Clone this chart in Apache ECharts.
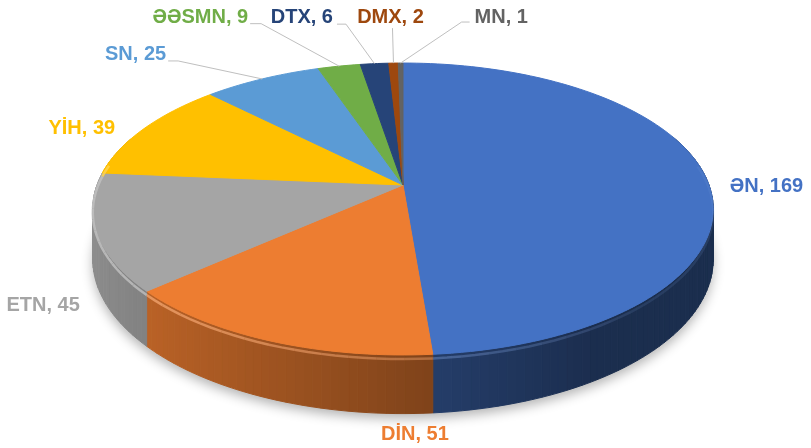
<!DOCTYPE html>
<html>
<head>
<meta charset="utf-8">
<script src="https://cdn.jsdelivr.net/npm/echarts@6/dist/echarts.min.js"></script>
<style>
  html, body { margin: 0; padding: 0; background: #fff; }
  #chart { width: 811px; height: 448px; }
</style>
</head>
<body>
<div id="chart"></div>
<script>
// categories and values
const categories = ['ƏN', 'DİN', 'ETN', 'YİH', 'SN', 'ƏƏSMN', 'DTX', 'DMX', 'MN'];
const values = [169, 51, 45, 39, 25, 9, 6, 2, 1];

// office palette
const colors = ['#4472C4', '#ED7D31', '#A5A5A5', '#FFC000', '#5B9BD5', '#70AD47', '#264478', '#9E480E', '#636363'];

// label placement: offset from the slice's rim point, align, leader elbow (relative to label point)
const labelLayout = [
    { off: [23, 7], align: 'left', leader: null },
    { off: [146, 94], align: 'center', leader: null },
    { off: [-17, 73], align: 'right', leader: null },
    { off: [-29, 0], align: 'right', leader: null },
    { off: [-96, -24], align: 'right', leader: [[12, 6], [2, 6]] },
    { off: [-91, -49], align: 'right', leader: [[13, 6.5], [2, 6.5]] },
    { off: [-41.5, -46.5], align: 'right', leader: [[13, 7], [4, 7]] },
    { off: [-3, -46], align: 'center', leader: [[2, 11], [2, 11]] },
    { off: [74, -46], align: 'left', leader: [[-13, 5], [-5, 5]] }
];

// perspective disc geometry
const geo = { cx: 403, d: 306, a: 185, b: 111.6, c: -0.1644, h: 49 };

const total = values.reduce((s, v) => s + v, 0);
const starts = [];
values.reduce((s, v, i) => { starts[i] = s; return s + v; }, 0);
const pieData = values.map((v, i) => [starts[i], v]);

function ang(x) { return x / total * Math.PI * 2; }

// theta measured clockwise from the back (top of the picture)
function rim(t, depth) {
    const u = Math.sin(t), v = -Math.cos(t);
    const den = 1 + geo.c * v;
    return [geo.cx + geo.d * u / den, (geo.a + geo.b * v) / den + (depth || 0) * geo.h / den];
}

function shade(hex, f) {
    const n = parseInt(hex.slice(1), 16);
    const r = Math.round(((n >> 16) & 255) * f), g = Math.round(((n >> 8) & 255) * f), b = Math.round((n & 255) * f);
    return 'rgb(' + r + ',' + g + ',' + b + ')';
}
function lighten(hex, f) {
    const n = parseInt(hex.slice(1), 16);
    const m = (c) => Math.round(c + (255 - c) * f);
    return 'rgb(' + m((n >> 16) & 255) + ',' + m((n >> 8) & 255) + ',' + m(n & 255) + ')';
}

function renderSide(params, api) {
    const i = params.dataIndex;
    const a0 = ang(api.value(0)), a1 = ang(api.value(0) + api.value(1));
    const step = Math.PI / 120;
    const n = Math.max(1, Math.ceil((a1 - a0) / step));
    const children = [];
    if (i === 0) {
        const outline = [];
        for (let k = 0; k <= 180; k++) outline.push(rim(k / 180 * Math.PI * 2, 1));
        children.push({
            type: 'polygon', shape: { points: outline },
            style: { fill: '#fff', shadowBlur: 12, shadowOffsetY: 5, shadowColor: 'rgba(0,0,0,0.3)' }
        });
    }
    for (let k = 0; k < n; k++) {
        const t0 = a0 + (a1 - a0) * k / n, t1 = a0 + (a1 - a0) * (k + 1) / n;
        const tm = (t0 + t1) / 2;
        if (-Math.cos(tm) < -0.35) continue;
        const f = Math.max(0.4, 0.56 - 0.3 * Math.sin(tm));
        const col = shade(colors[i], f);
        children.push({
            type: 'polygon',
            shape: { points: [rim(t0, 0), rim(t1, 0), rim(t1, 1), rim(t0, 1)] },
            style: { fill: col, stroke: col, lineWidth: 1 }
        });
    }
    return { type: 'group', children: children };
}

function renderTop(params, api) {
    const i = params.dataIndex;
    const a0 = ang(api.value(0)), a1 = ang(api.value(0) + api.value(1));
    const n = Math.max(2, Math.ceil((a1 - a0) / (Math.PI / 120)));
    const pts = [[geo.cx, geo.a]];
    for (let k = 0; k <= n; k++) pts.push(rim(a0 + (a1 - a0) * k / n, 0));
    const children = [{
        type: 'polygon', shape: { points: pts },
        style: { fill: colors[i], stroke: colors[i], lineWidth: 1 }
    }];
    // rounded bevel highlight, brighter where it faces the light on the left
    const m = Math.max(1, Math.ceil((a1 - a0) / (Math.PI / 40)));
    for (let k = 0; k < m; k++) {
        const t0 = a0 + (a1 - a0) * k / m, t1 = a0 + (a1 - a0) * (k + 1) / m;
        const tm = (t0 + t1) / 2;
        if (-Math.cos(tm) < -0.15) continue;
        const op = Math.max(0.15, Math.min(0.85, 0.45 - 0.45 * Math.sin(tm)));
        children.push({
            type: 'polyline', shape: { points: [rim(t0, 0.07), rim((t0 + t1) / 2, 0.07), rim(t1, 0.07)] },
            style: { stroke: lighten(colors[i], 0.3), lineWidth: 2.5, opacity: op, fill: null }
        });
    }
    return { type: 'group', children: children };
}

function renderLabel(params, api) {
    const i = params.dataIndex;
    const tm = ang(api.value(0) + api.value(1) / 2);
    const p = rim(tm, 0);
    const L = labelLayout[i];
    const lx = p[0] + L.off[0], ly = p[1] + L.off[1];
    const children = [];
    if (L.leader) {
        children.push({
            type: 'polyline',
            shape: { points: [p, [lx + L.leader[0][0], ly + L.leader[0][1]], [lx + L.leader[1][0], ly + L.leader[1][1]]] },
            style: { stroke: '#BFBFBF', lineWidth: 1, fill: null }
        });
    }
    children.push({
        type: 'text',
        style: {
            text: categories[i] + ', ' + api.value(1),
            x: lx, y: ly,
            fill: colors[i],
            font: 'bold 20px "Liberation Sans", "DejaVu Sans", sans-serif',
            align: L.align, verticalAlign: 'middle'
        }
    });
    return { type: 'group', children: children };
}

let chart = echarts.init(document.getElementById('chart'));
chart.setOption({
    backgroundColor: '#fff',
    animation: false,
    series: [
        { type: 'custom', coordinateSystem: 'none', renderItem: renderSide, data: pieData, silent: true, z: 1 },
        { type: 'custom', coordinateSystem: 'none', renderItem: renderTop, data: pieData, silent: true, z: 2 },
        { type: 'custom', coordinateSystem: 'none', renderItem: renderLabel, data: pieData, silent: true, z: 3 }
    ]
});
</script>
</body>
</html>
